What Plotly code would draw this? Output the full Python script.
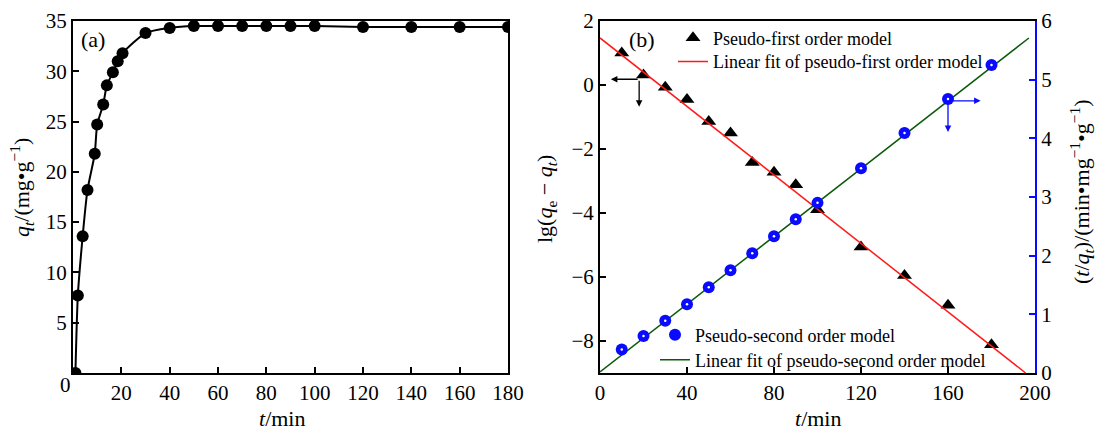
import plotly.graph_objects as go

# ---------------- data ----------------
# Panel (a): adsorption kinetics
t_a = [1, 2, 4, 6, 9, 10, 12.5, 14, 16.5, 18.5, 20.5, 30, 40, 50, 60, 70, 80, 90, 100, 120, 140, 160, 180]
q_a = [0.0, 7.7, 13.6, 18.2, 21.8, 24.7, 26.7, 28.6, 29.9, 31.0, 31.8, 33.8, 34.3, 34.5, 34.5, 34.5, 34.5, 34.5, 34.5, 34.4, 34.4, 34.4, 34.4]

# Panel (b): pseudo-first order (left axis)
t_pfo = [10, 20, 30, 40, 50, 60, 70, 80, 90, 100, 120, 140, 160, 180]
lg_pfo = [1.0, 0.31, -0.07, -0.45, -1.14, -1.5, -2.42, -2.73, -3.12, -3.9, -5.06, -5.95, -6.88, -8.12]
fit_pfo_t = [0, 195.7]
fit_pfo_y = [1.47, -9.0]

# Panel (b): pseudo-second order (right axis)
t_pso = [10, 20, 30, 40, 50, 60, 70, 80, 90, 100, 120, 140, 160, 180]
tq_pso = [0.40, 0.63, 0.89, 1.17, 1.46, 1.75, 2.04, 2.33, 2.62, 2.9, 3.49, 4.09, 4.67, 5.25]
fit_pso_t = [0, 197.2]
fit_pso_y = [0.02, 5.71]

xticks_a = [20, 40, 60, 80, 100, 120, 140, 160, 180]
yticks_a = [5, 10, 15, 20, 25, 30, 35]
xticks_b = [0, 40, 80, 120, 160, 200]
yticks_b = [-8, -6, -4, -2, 0, 2]
yticks_b_text = ["\u22128", "\u22126", "\u22124", "\u22122", "0", "2"]
yticks_b2 = [0, 1, 2, 3, 4, 5, 6]

# ---------------- figure ----------------
W, H = 1096, 430
FONT = "Liberation Serif, Times New Roman, serif"
TICKF = dict(family=FONT, size=21, color="black")
TITLEF = dict(family=FONT, size=22, color="black")
LEGF = dict(family=FONT, size=18, color="black")
BLUE = "#0a0aff"

def px_x(p):
    return p / W

def px_y(p):
    return 1 - p / H

dom_y = [px_y(373), px_y(21)]
dom_xa = [px_x(73), px_x(508)]
dom_xb = [px_x(600), px_x(1035)]

fig = go.Figure()

fig.add_trace(go.Scatter(
    x=t_a, y=q_a, mode="lines+markers", xaxis="x", yaxis="y",
    line=dict(color="black", width=2, shape="spline", smoothing=0.6),
    marker=dict(color="black", size=12), showlegend=False))

fig.add_trace(go.Scatter(
    x=t_pfo, y=lg_pfo, mode="markers", xaxis="x2", yaxis="y2",
    marker=dict(symbol="triangle-up", color="black", size=13),
    name="Pseudo-first order model", legend="legend"))
fig.add_trace(go.Scatter(
    x=fit_pfo_t, y=fit_pfo_y, mode="lines", xaxis="x2", yaxis="y2",
    line=dict(color="#ff1a1a", width=1.5),
    name="Linear fit of pseudo-first order model", legend="legend2"))

fig.add_trace(go.Scatter(
    x=fit_pso_t, y=fit_pso_y, mode="lines", xaxis="x2", yaxis="y3",
    line=dict(color="#0a5a0a", width=1.5),
    name="Linear fit of pseudo-second order model", legend="legend4"))
fig.add_trace(go.Scatter(
    x=t_pso, y=tq_pso, mode="markers", xaxis="x2", yaxis="y3",
    marker=dict(color=BLUE, size=12),
    name="Pseudo-second order model", legend="legend3"))
fig.add_trace(go.Scatter(
    x=t_pso, y=tq_pso, mode="markers", xaxis="x2", yaxis="y3",
    marker=dict(color="white", size=2.5), showlegend=False, hoverinfo="skip"))

axis_common = dict(showline=True, linecolor="black", linewidth=2, ticks="inside",
                   ticklen=6, tickwidth=1.5, tickcolor="black", showgrid=False,
                   zeroline=False, tickfont=TICKF, automargin=False)

def leg(xp, ycenter):
    return dict(x=px_x(xp), y=px_y(ycenter - 18.5), xanchor="left", yanchor="top",
                bgcolor="rgba(0,0,0,0)", font=LEGF, borderwidth=0)

fig.update_layout(
    template="none",
    width=W, height=H, margin=dict(l=0, r=0, t=0, b=0, pad=0, autoexpand=False),
    plot_bgcolor="white", paper_bgcolor="white",
    font=dict(family=FONT, color="black"),
    xaxis=dict(domain=dom_xa, range=[0, 180], tickvals=xticks_a, mirror=True,
               anchor="y", **axis_common),
    yaxis=dict(domain=dom_y, range=[0, 35], tickvals=yticks_a, mirror=True,
               anchor="x", **axis_common),
    xaxis2=dict(domain=dom_xb, range=[0, 200], tickvals=xticks_b, mirror=True,
                anchor="y2", **axis_common),
    yaxis2=dict(domain=dom_y, range=[-9, 2], tickvals=yticks_b, ticktext=yticks_b_text,
                anchor="x2", **axis_common),
    yaxis3=dict(domain=dom_y, range=[0, 6], tickvals=yticks_b2, overlaying="y2",
                side="right", anchor="x2", showline=True, linecolor=BLUE,
                linewidth=2, ticks="inside", ticklen=6, tickwidth=1.5,
                tickcolor=BLUE, showgrid=False, zeroline=False, tickfont=TICKF,
                automargin=False),
    legend=leg(673, 38),
    legend2=leg(673, 61.7),
    legend3=leg(655, 335),
    legend4=leg(655, 360),
)

def txt(xp, yp, text, font, angle=0, xanchor="center"):
    return dict(x=px_x(xp), y=px_y(yp), xref="paper", yref="paper", text=text,
                showarrow=False, xanchor=xanchor, yanchor="middle",
                textangle=angle, font=font)

ann = []
# origin label of panel (a)
ann.append(dict(x=0, y=0, xref="x", yref="y", text="0", showarrow=False,
                xanchor="center", yanchor="middle",
                xshift=-8, yshift=-12, font=TICKF))
# panel labels
ann.append(txt(79, 40, "(a)", TITLEF, xanchor="left"))
ann.append(txt(627, 40, "(b)", TITLEF, xanchor="left"))
# axis titles
ann.append(txt(21, 188, "<i>q</i><sub><i>t</i></sub>/(mg\u2022g<sup>\u22121</sup>)", TITLEF, angle=-90))
ann.append(txt(282, 418, "<i>t</i>/min", TITLEF))
ann.append(txt(818, 418, "<i>t</i>/min", TITLEF))
ann.append(txt(546, 199, "lg(<i>q</i><sub>e</sub> \u2212 <i>q</i><sub><i>t</i></sub>)", TITLEF, angle=-90))
ann.append(txt(1081, 192,
               "(<i>t</i>/<i>q</i><sub><i>t</i></sub>)/(min\u2022mg<sup>\u22121</sup>\u2022g<sup>\u22121</sup>)",
               TITLEF, angle=-90))
# direction arrows
ann.append(dict(x=5, y=0.18, ax=18, ay=0.18, xref="x2", yref="y2", axref="x2", ayref="y2",
                text="", showarrow=True, arrowhead=2, arrowsize=1, arrowwidth=1.3, arrowcolor="black"))
ann.append(dict(x=18, y=-0.68, ax=18, ay=0.18, xref="x2", yref="y2", axref="x2", ayref="y2",
                text="", showarrow=True, arrowhead=2, arrowsize=1, arrowwidth=1.3, arrowcolor="black"))
ann.append(dict(x=175, y=4.64, ax=160, ay=4.64, xref="x2", yref="y3", axref="x2", ayref="y3",
                text="", showarrow=True, arrowhead=2, arrowsize=1, arrowwidth=1.3, arrowcolor=BLUE))
ann.append(dict(x=160, y=4.11, ax=160, ay=4.64, xref="x2", yref="y3", axref="x2", ayref="y3",
                text="", showarrow=True, arrowhead=2, arrowsize=1, arrowwidth=1.3, arrowcolor=BLUE))
fig.update_layout(annotations=ann)

fig.write_html("out.html")
